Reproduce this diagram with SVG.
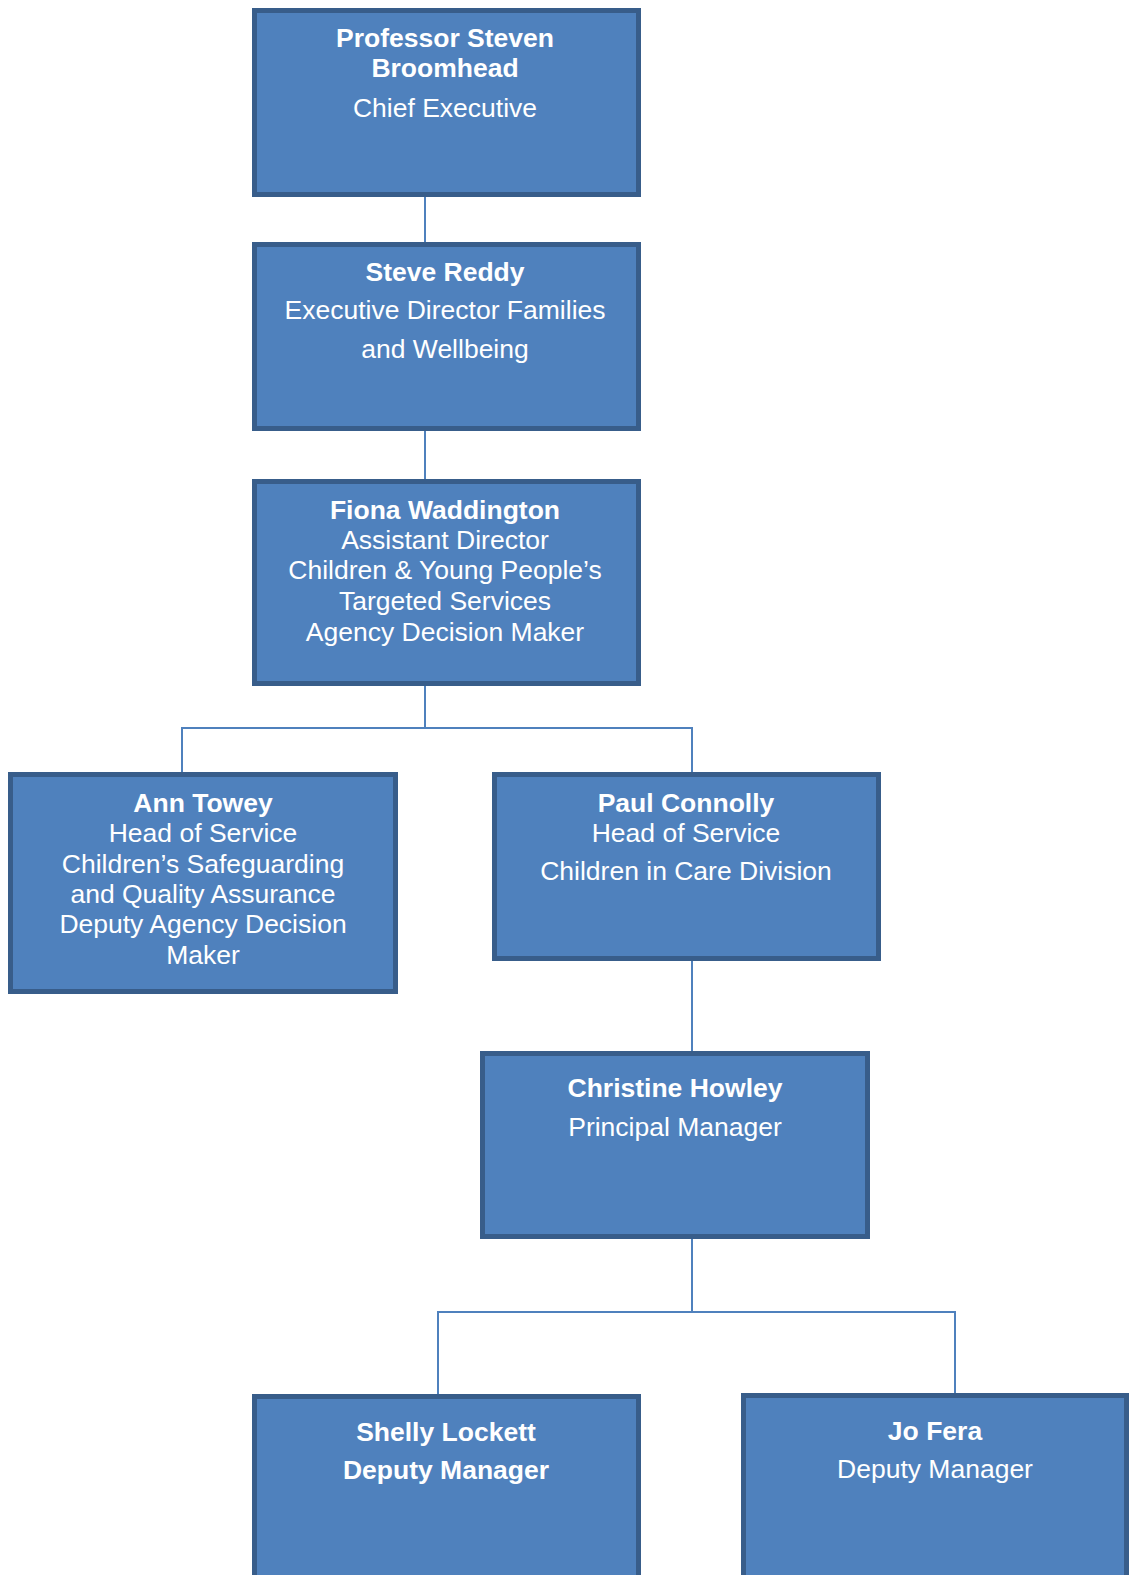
<svg xmlns="http://www.w3.org/2000/svg" width="1129" height="1575" viewBox="0 0 1129 1575">
<style>
.box{fill:#4f81bd;stroke:#385d8a;stroke-width:5}
.conn{fill:none;stroke:#4f81bd;stroke-width:2}
text{font-family:"Liberation Sans",Arial,sans-serif;font-size:26.5px;fill:#ffffff;text-anchor:middle}
.b{font-weight:bold}
</style>
<rect width="1129" height="1575" fill="#ffffff"/>
<g id="connectors">
<path class="conn" d="M425,197V242"/>
<path class="conn" d="M425,431V479"/>
<path class="conn" d="M425,686V728M182,772V728H692V772"/>
<path class="conn" d="M692,961V1051"/>
<path class="conn" d="M692,1239V1312M438,1394V1312H955V1393"/>
</g>
<g id="n1">
<rect class="box" x="254.5" y="10.5" width="384" height="184"/>
<text class="b" x="445" y="47">Professor Steven</text>
<text class="b" x="445" y="77">Broomhead</text>
<text x="445" y="117">Chief Executive</text>
</g>
<g id="n2">
<rect class="box" x="254.5" y="244.5" width="384" height="184"/>
<text class="b" x="445" y="281">Steve Reddy</text>
<text x="445" y="319">Executive Director Families</text>
<text x="445" y="358">and Wellbeing</text>
</g>
<g id="n3">
<rect class="box" x="254.5" y="481.5" width="384" height="202"/>
<text class="b" x="445" y="519">Fiona Waddington</text>
<text x="445" y="549">Assistant Director</text>
<text x="445" y="579">Children &amp; Young People’s</text>
<text x="445" y="610">Targeted Services</text>
<text x="445" y="641">Agency Decision Maker</text>
</g>
<g id="n4">
<rect class="box" x="10.5" y="774.5" width="385" height="217"/>
<text class="b" x="203" y="812">Ann Towey</text>
<text x="203" y="842">Head of Service</text>
<text x="203" y="873">Children’s Safeguarding</text>
<text x="203" y="903">and Quality Assurance</text>
<text x="203" y="933">Deputy Agency Decision</text>
<text x="203" y="964">Maker</text>
</g>
<g id="n5">
<rect class="box" x="494.5" y="774.5" width="384" height="184"/>
<text class="b" x="686" y="812">Paul Connolly</text>
<text x="686" y="842">Head of Service</text>
<text x="686" y="880">Children in Care Division</text>
</g>
<g id="n6">
<rect class="box" x="482.5" y="1053.5" width="385" height="183"/>
<text class="b" x="675" y="1097">Christine Howley</text>
<text x="675" y="1136">Principal Manager</text>
</g>
<g id="n7">
<rect class="box" x="254.5" y="1396.5" width="384" height="220"/>
<text class="b" x="446" y="1441">Shelly Lockett</text>
<text class="b" x="446" y="1479">Deputy Manager</text>
</g>
<g id="n8">
<rect class="box" x="743.5" y="1395.5" width="383" height="220"/>
<text class="b" x="935" y="1440">Jo Fera</text>
<text x="935" y="1478">Deputy Manager</text>
</g>
</svg>
